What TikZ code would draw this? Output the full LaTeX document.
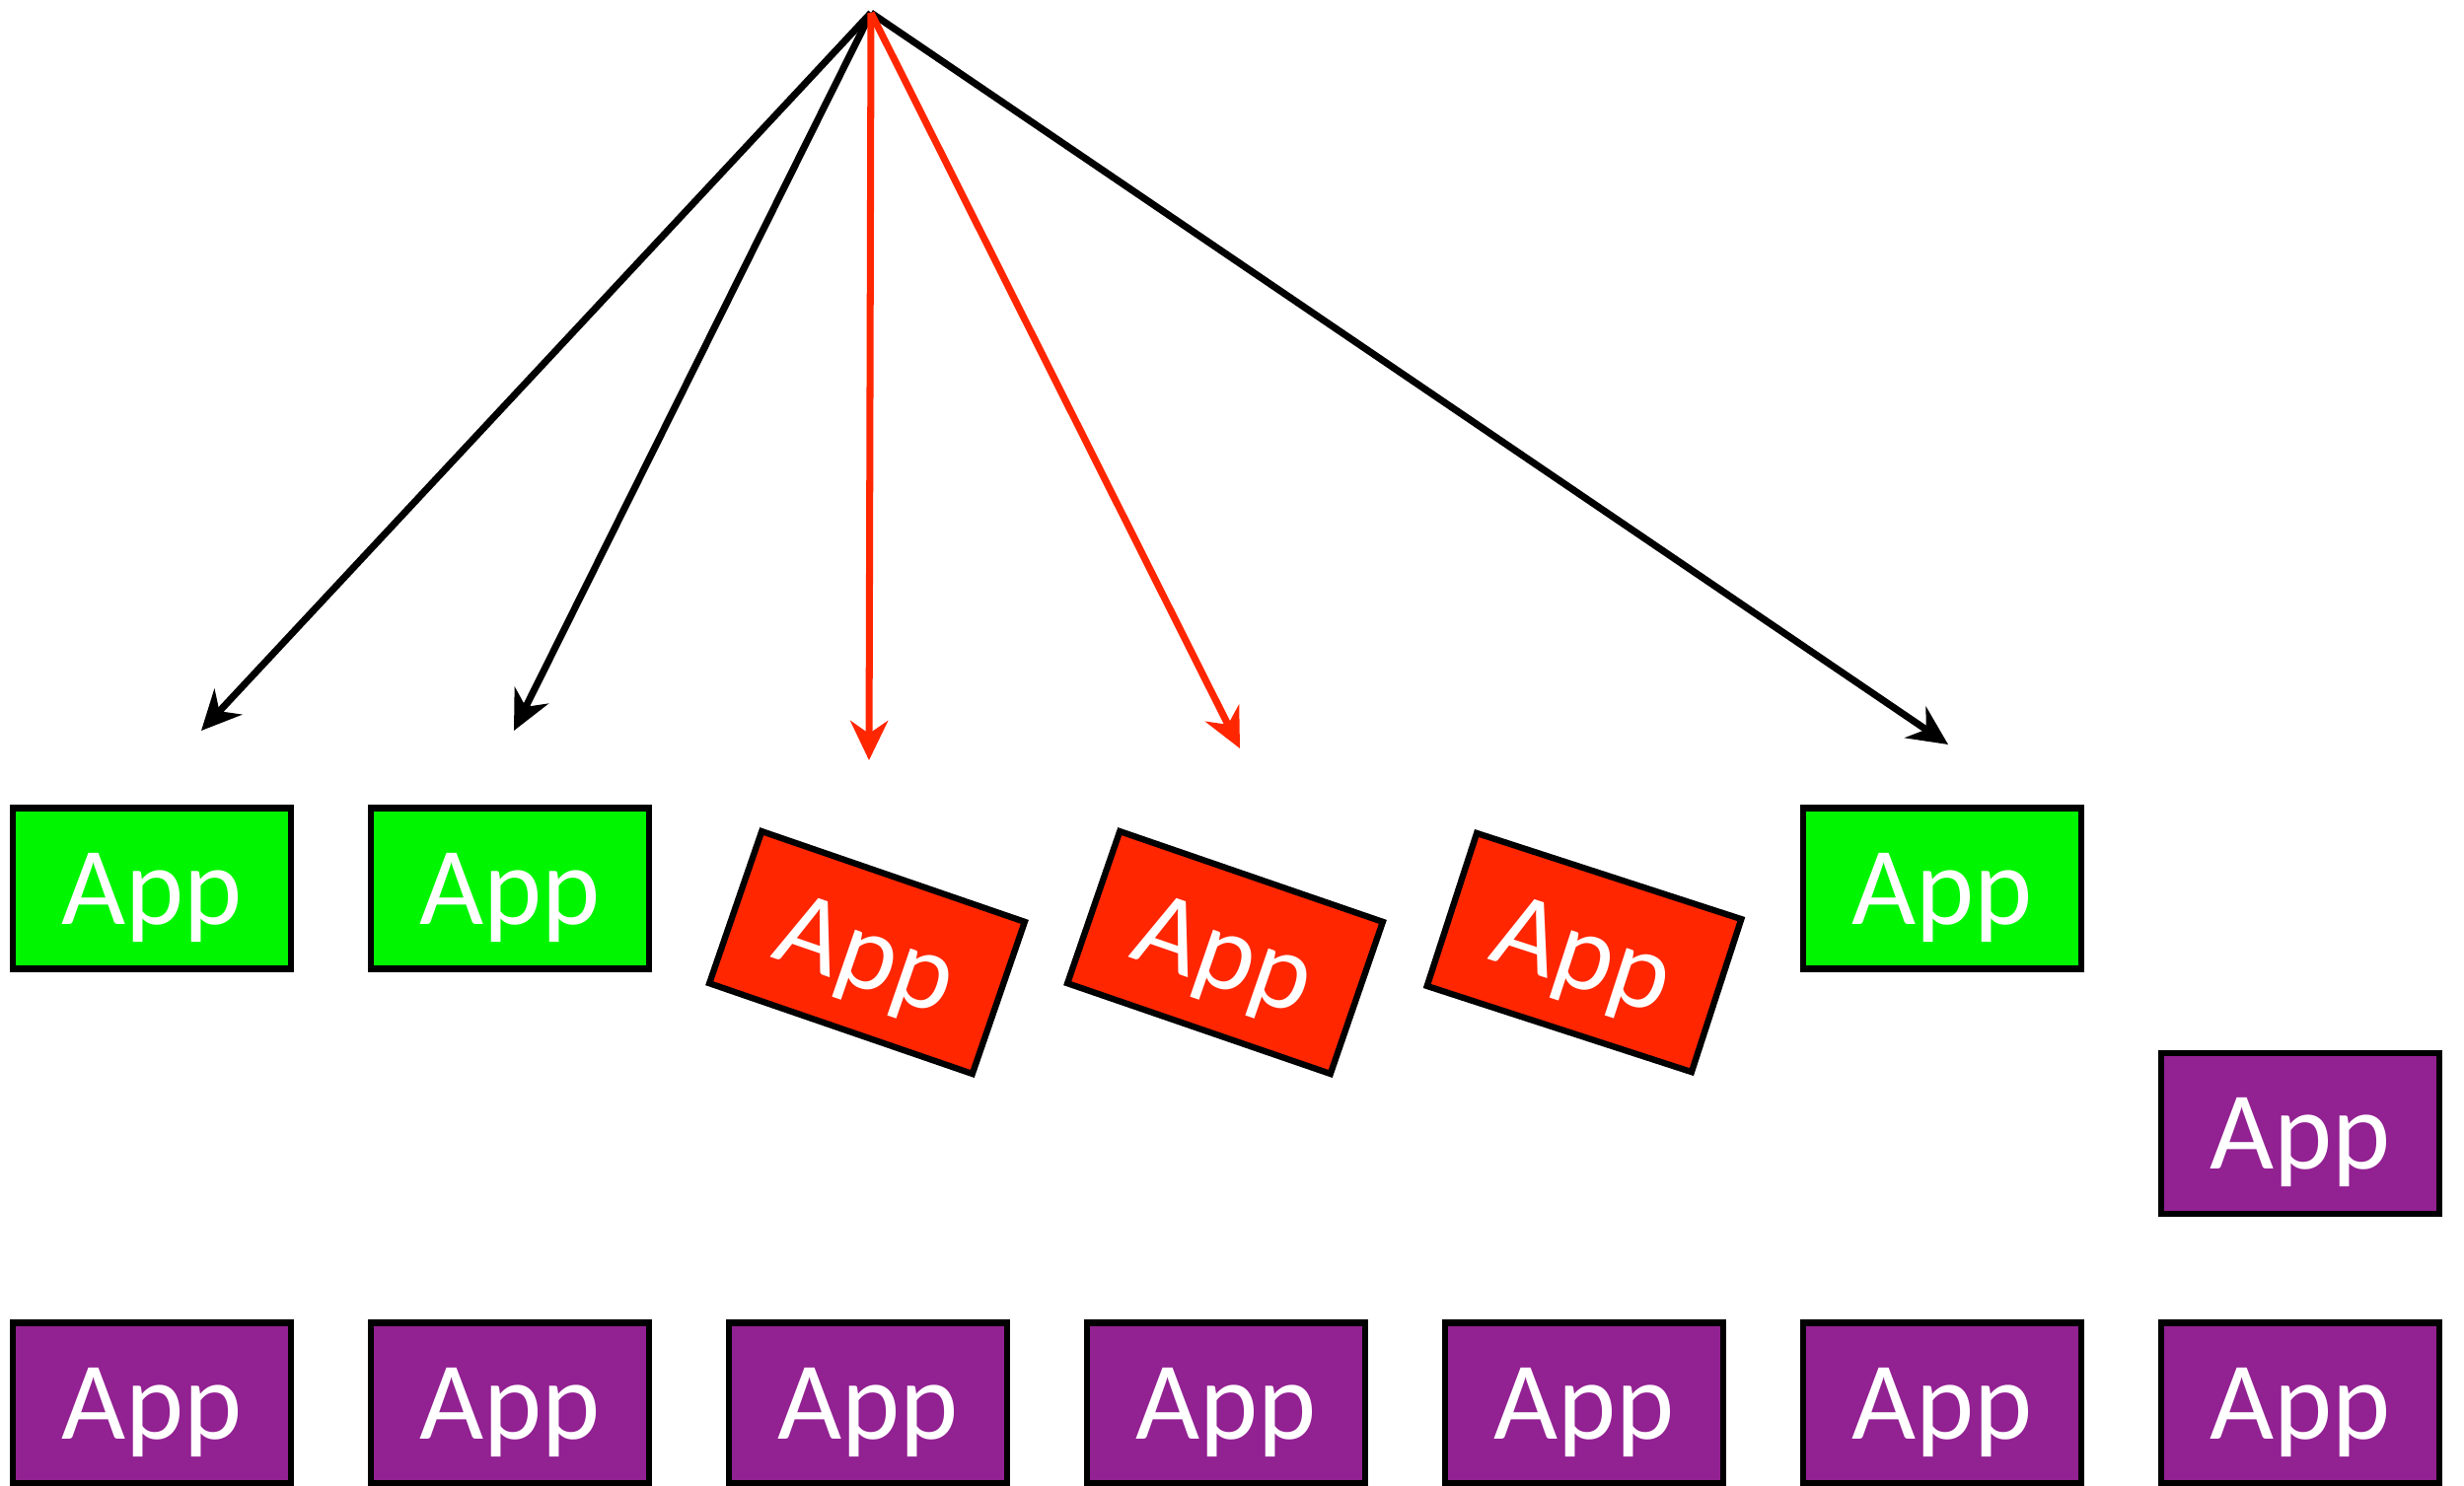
\documentclass[tikz,border=0pt]{standalone}
\usepackage{fontspec}
\setmainfont{Carlito}
\usetikzlibrary{arrows.meta,positioning}

\definecolor{appgreen}{RGB}{0,245,0}
\definecolor{appred}{RGB}{255,38,0}
\definecolor{apppurple}{RGB}{146,33,146}

\begin{document}
\begin{tikzpicture}[node distance=8mm,
		app/.style={draw, line width=1.8pt, minimum width=28.2mm, minimum height=16.3mm, inner sep=0pt,
			text=white, text depth=0pt, font=\fontsize{32}{32}\selectfont},
		ok/.style={app, fill=appgreen},
		bad/.style={app, fill=appred},
		idle/.style={app, fill=apppurple},
		wire/.style={line width=2pt, -{Stealth[length=4mm, width=3.8mm]}}]
	\useasboundingbox (0,0) rectangle (24.98,-15.06);

	% bottom row
	\foreach \i in {1,...,7}
		\node[idle] (b\i) at ({1.54+3.63*(\i-1)}, -14.23) {App};
	\node[idle, above=10.4mm of b7] (p7) {App};

	% upper row
	\node[ok] (g1) at (1.54,-9.01) {App};
	\node[ok] (g2) at (5.17,-9.01) {App};
	\node[bad, rotate=-19] (r3) at (8.79,-9.66) {App};
	\node[bad, rotate=-19] (r4) at (12.42,-9.66) {App};
	\node[bad, rotate=-18] (r5) at (16.06,-9.66) {App};
	\node[ok] (g6) at (19.69,-9.01) {App};

	% fan of arrows
	\coordinate (top) at (8.83,-0.13);
	\coordinate (t1) at (2.04,-7.41);
	\coordinate (t2) at (5.21,-7.41);
	\coordinate (t3) at (8.81,-7.71);
	\coordinate (t4) at (12.57,-7.59);
	\coordinate (t5) at (19.75,-7.55);
	\foreach \t in {t1, t2, t5} \draw[wire] (top) -- (\t);
	\foreach \t in {t3, t4} \draw[wire, appred] (top) -- (\t);
\end{tikzpicture}
\end{document}
